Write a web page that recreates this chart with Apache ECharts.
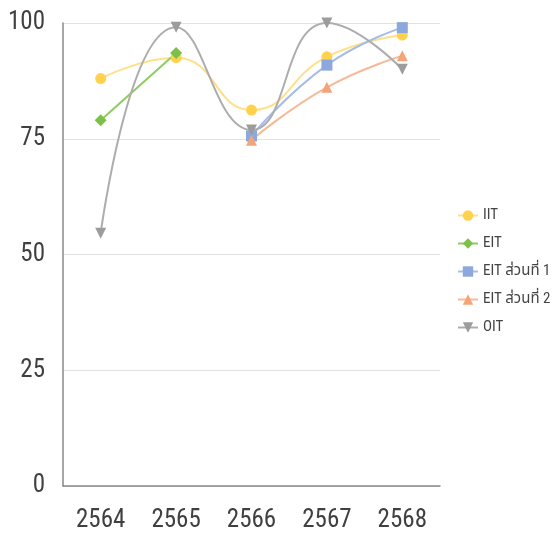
<!DOCTYPE html>
<html><head><meta charset="utf-8">
<script src="https://cdn.jsdelivr.net/npm/echarts@6/dist/echarts.min.js"></script>
<style>html,body{margin:0;padding:0;background:#fff}#c{width:558px;height:541px}</style>
</head><body><div id="c"></div>
<script>
var categories = ['2564','2565','2566','2567','2568'];
var iit = [88, 92.5, 81.2, 92.7, 97.4];
var eit = [79, 93.5, null, null, null];
var eit1 = [null, null, 75.6, 90.9, 99];
var eit2 = [null, null, 74.7, 86.1, 92.9];
var oit = [54.6, 99.1, 76.9, 100, 90];
var yTicks = {min: 0, max: 100, interval: 25};

var FONT = '"Roboto Condensed", "Noto Sans Thai", "Noto Sans", sans-serif';
function mk(name, data, sym, mcol, lcol, smooth, size, rot) {
  return {
    name: name, type: 'line', data: data, smooth: smooth, connectNulls: false,
    symbol: sym, symbolSize: size, symbolRotate: rot || 0,
    itemStyle: {color: mcol},
    lineStyle: {color: lcol, width: 2},
    z: 2
  };
}
var chart = echarts.init(document.getElementById('c'));
chart.setOption({
  animation: false,
  backgroundColor: '#fff',
  grid: {left: 63, right: 118, top: 23, bottom: 55},
  legend: {
    orient: 'vertical', left: 452, top: 203, itemGap: 13, itemWidth: 20, itemHeight: 13,
    textStyle: {fontFamily: FONT, fontSize: 15, color: '#444'},
    data: ['IIT','EIT','EIT ส่วนที่ 1','EIT ส่วนที่ 2','OIT']
  },
  xAxis: {
    type: 'category', data: categories, boundaryGap: true,
    axisLine: {lineStyle: {color: '#888', width: 1.5}},
    axisTick: {show: false},
    axisLabel: {fontFamily: FONT, fontSize: 25, color: '#404040', margin: 22}
  },
  yAxis: {
    type: 'value', min: yTicks.min, max: yTicks.max, interval: yTicks.interval,
    axisLine: {show: true, lineStyle: {color: '#888', width: 1.5}},
    axisTick: {show: false},
    splitLine: {lineStyle: {color: '#e2e2e2', width: 1}},
    axisLabel: {fontFamily: FONT, fontSize: 25, color: '#404040', margin: 18}
  },
  series: [
    mk('IIT', iit, 'circle', '#FFD24D', '#FFE08A', true, 11),
    mk('EIT', eit, 'diamond', '#7CC04A', '#8FCB62', false, 12),
    mk('EIT ส่วนที่ 1', eit1, 'rect', '#8DA8DC', '#A7BCE6', true, 11),
    mk('EIT ส่วนที่ 2', eit2, 'triangle', '#F4A577', '#F5BA98', true, 11),
    mk('OIT', oit, 'triangle', '#9C9C9C', '#ADADAD', true, 11, 180)
  ]
});
</script></body></html>
